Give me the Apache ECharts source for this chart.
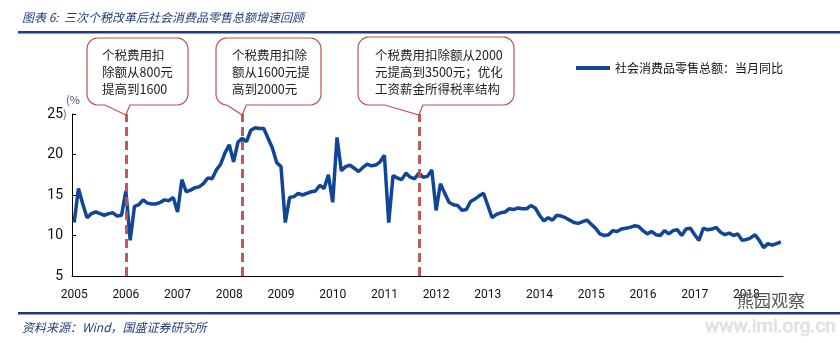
<!DOCTYPE html>
<html><head><meta charset="utf-8">
<script src="https://cdn.jsdelivr.net/npm/echarts@6/dist/echarts.min.js"></script>
<style>html,body{margin:0;padding:0;background:#fff}#c{width:840px;height:343px}</style>
</head><body><div id="c"></div>
<script>
// ---- data (社会消费品零售总额：当月同比, %) ----
const years = ['2005','2006','2007','2008','2009','2010','2011','2012','2013','2014','2015','2016','2017','2018'];
const v2005 = [11.6, 15.8, 13.9, 12.2, 12.7, 12.9, 12.7, 12.5, 12.7, 12.8, 12.4, 12.5];
const v2006 = [15.5, 9.4, 13.6, 13.8, 14.4, 14.0, 13.9, 13.9, 14.1, 14.4, 14.3, 14.7];
const v2007 = [12.9, 16.9, 15.4, 15.6, 15.9, 16.0, 16.4, 17.1, 17.0, 18.1, 18.8, 20.2];
const v2008 = [21.2, 19.1, 21.5, 22.0, 21.6, 23.0, 23.3, 23.2, 23.2, 22.0, 20.8, 19.0];
const v2009 = [18.5, 11.6, 14.7, 14.8, 15.2, 15.0, 15.2, 15.4, 15.5, 16.2, 15.8, 17.5];
const v2010 = [14.1, 22.1, 18.0, 18.5, 18.7, 18.3, 17.9, 18.4, 18.8, 18.6, 18.7, 19.1];
const v2011 = [19.9, 11.6, 17.4, 17.1, 16.9, 17.7, 17.2, 17.0, 17.7, 17.2, 17.3, 18.1];
const v2012 = [13.1, 16.4, 15.2, 14.1, 13.8, 13.7, 13.1, 13.2, 14.2, 14.5, 14.9, 15.2];
const v2013 = [13.7, 12.2, 12.6, 12.8, 12.9, 13.3, 13.2, 13.4, 13.3, 13.3, 13.7, 13.4];
const v2014 = [12.5, 11.8, 12.2, 11.9, 12.5, 12.4, 12.2, 11.9, 11.6, 11.5, 11.7, 11.9];
const v2015 = [11.4, 10.9, 10.2, 10.0, 10.1, 10.6, 10.5, 10.8, 10.9, 11.0, 11.2, 11.1];
const v2016 = [10.6, 10.2, 10.5, 10.1, 10.0, 10.6, 10.2, 10.6, 10.7, 10.0, 10.8, 10.9];
const v2017 = [10.1, 9.4, 10.9, 10.7, 10.8, 11.0, 10.4, 10.1, 10.3, 10.0, 10.2, 9.4];
const v2018 = [9.5, 9.7, 10.1, 9.4, 8.5, 9.0, 8.8, 9.0, 9.2];
const yearValues = [v2005, v2006, v2007, v2008, v2009, v2010, v2011, v2012, v2013, v2014, v2015, v2016, v2017, v2018];
const seriesName = '社会消费品零售总额：当月同比';
const reformMonths = ['2006-01', '2008-04', '2011-09'];
const calloutTexts = [
  ['个税费用扣', '除额从800元', '提高到1600'],
  ['个税费用扣除', '额从1600元提', '高到2000元'],
  ['个税费用扣除额从2000', '元提高到3500元；优化', '工资薪金所得税率结构']
];
const yTicks = {min: 5, max: 25, interval: 5};

// build category table
const categories = [];
const values = [];
years.forEach((y, i) => {
  yearValues[i].forEach((v, k) => {
    categories.push(y + '-' + String(k + 1).padStart(2, '0'));
    values.push(v);
  });
});

const CJK = '"Noto Sans CJK SC", sans-serif';
const NUM = 'Roboto, "Liberation Sans", sans-serif';
const darkBlue = '#1E3C7D';
const lineBlue = '#104597';
const red = '#C0504D';

const chart = echarts.init(document.getElementById('c'), null, {renderer: 'canvas'});
chart.setOption({
  animation: false,
  backgroundColor: '#fff',
  grid: {left: 72, right: 57, top: 114, bottom: 67, containLabel: false, outerBoundsMode: 'none'},
  legend: {
    data: [seriesName], left: 571, top: 57, icon: 'rect', itemWidth: 34, itemHeight: 4,
    textStyle: {fontSize: 12, color: '#111', fontFamily: CJK}
  },
  xAxis: {
    type: 'category', data: categories, boundaryGap: true,
    axisLine: {lineStyle: {color: '#000', width: 1}},
    axisTick: {interval: 11, inside: true, length: 4, lineStyle: {color: '#000'}},
    axisLabel: {interval: 11, formatter: v => v.slice(0, 4), color: '#111', fontSize: 12, fontFamily: NUM, margin: 13},
    splitLine: {show: false}
  },
  yAxis: {
    type: 'value', min: yTicks.min, max: yTicks.max, interval: yTicks.interval,
    axisLine: {show: true, lineStyle: {color: '#000', width: 1}},
    axisTick: {show: true, inside: true, length: 4, lineStyle: {color: '#000'}},
    axisLabel: {color: '#111', fontSize: 14, fontFamily: NUM, margin: 9},
    splitLine: {show: false}
  },
  series: [{
    name: seriesName, type: 'line', data: values, showSymbol: false, symbol: 'none',
    lineStyle: {color: lineBlue, width: 3.5}, itemStyle: {color: lineBlue},
    markLine: {
      silent: true, symbol: ['none', 'none'], label: {show: false},
      lineStyle: {color: red, width: 3, type: [9, 5], opacity: 0.95},
      data: reformMonths.map(m => ({xAxis: m}))
    }
  }]
});

// callout annotations (layout only)
const boxes = [
  {x0: 87, y0: 38, x1: 188, y1: 105, tl: -21, tr: 4, tx: 102},
  {x0: 216, y0: 38, x1: 321, y1: 105, tl: null, tr: 4, tx: 232},
  {x0: 358, y0: 37, x1: 514, y1: 105, tl: -34, tr: 4, tx: 375}
];
function arcPts(cx, cy, r, a0, a1) {
  const pts = [];
  const n = 8;
  for (let i = 0; i <= n; i++) {
    const a = (a0 + (a1 - a0) * i / n) * Math.PI / 180;
    pts.push([cx + r * Math.cos(a), cy + r * Math.sin(a)]);
  }
  return pts;
}
function calloutPoints(x0, y0, x1, y1, r, bx1, bx2, tx, ty) {
  let pts = [];
  pts = pts.concat(arcPts(x1 - r, y0 + r, r, -90, 0));
  pts = pts.concat(arcPts(x1 - r, y1 - r, r, 0, 90));
  pts.push([bx2, y1], [tx, ty], [bx1, y1]);
  pts = pts.concat(arcPts(x0 + r, y1 - r, r, 90, 180));
  pts = pts.concat(arcPts(x0 + r, y0 + r, r, 180, 270));
  return pts;
}
const topY = chart.convertToPixel({yAxisIndex: 0}, yTicks.max);
const graphics = [];
graphics.push({type: 'text', style: {text: '图表 6:  三次个税改革后社会消费品零售总额增速回顾', x: 22, y: 17, font: 'italic 12px ' + CJK, fill: darkBlue, textVerticalAlign: 'middle'}});
graphics.push({type: 'rect', shape: {x: 18, y: 31, width: 822, height: 2.5}, style: {fill: darkBlue}});
graphics.push({type: 'rect', shape: {x: 18, y: 312, width: 822, height: 2.5}, style: {fill: darkBlue}});
graphics.push({type: 'text', style: {text: '资料来源：Wind，国盛证券研究所', x: 22, y: 327, font: 'italic 12px ' + CJK, fill: darkBlue, textVerticalAlign: 'middle'}});
graphics.push({type: 'text', style: {text: '(%', x: 66, y: 100, font: '11px ' + CJK, fill: '#44546A', textVerticalAlign: 'middle'}});
graphics.push({type: 'text', style: {text: ')', x: 63, y: 114, font: '11px ' + CJK, fill: '#44546A', textVerticalAlign: 'middle'}});
boxes.forEach((b, i) => {
  const tipX = chart.convertToPixel({xAxisIndex: 0}, reformMonths[i]);
  const r = 11;
  const bx1 = b.tl === null ? b.x0 + r : tipX + b.tl;
  const bx2 = tipX + b.tr;
  graphics.push({type: 'polygon', z: 10, shape: {points: calloutPoints(b.x0, b.y0, b.x1, b.y1, r, bx1, bx2, tipX, topY + 1)},
    style: {fill: '#fff', stroke: red, lineWidth: 1.2}});
  calloutTexts[i].forEach((t, k) => {
    graphics.push({type: 'text', z: 11, style: {text: t, x: b.tx, y: 55 + k * 17, font: '12.5px ' + CJK, fill: '#222', textVerticalAlign: 'middle'}});
  });
});
// watermark
graphics.push({type: 'text', z: 20, style: {text: '熊园观察', x: 737, y: 301, font: '17px ' + CJK, fill: '#555', textVerticalAlign: 'middle'}});
graphics.push({type: 'text', z: 20, style: {text: 'www.imi.org.cn', x: 705, y: 327, font: '19px ' + NUM, fill: '#e4e4e4', stroke: '#cfcfcf', lineWidth: 0.6, textVerticalAlign: 'middle'}});
chart.setOption({graphic: graphics});
</script>
</body></html>
